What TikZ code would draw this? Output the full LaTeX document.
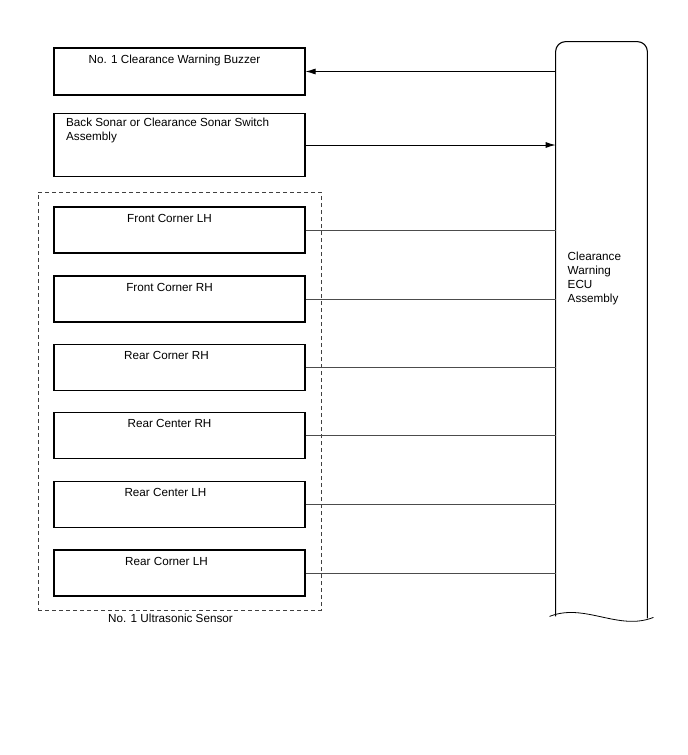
\documentclass[tikz,border=0pt]{standalone}
\usepackage{fontspec}
\setmainfont{Liberation Sans}
\usetikzlibrary{arrows.meta}

\begin{document}
\begin{tikzpicture}[x=1pt,y=-1pt,
                    line width=0.8pt,
                    font=\fontsize{11.7}{14}\selectfont]
    \tikzstyle{unit}=[draw,rectangle,line width=1.1pt,minimum width=251pt,minimum height=46pt,inner sep=0pt]
    \tikzstyle{title}=[anchor=north,xshift=-10pt,yshift=-4pt]
    \tikzstyle{group}=[draw=black!75,dash pattern=on 4pt off 3pt,line width=0.9pt,rectangle,
                       minimum width=283pt,minimum height=418pt,inner sep=0pt]
    \tikzstyle{wire}=[draw=black!70,line width=0.8pt]
    \tikzstyle{signal}=[wire,draw=black,-{Latex[length=10pt,width=6pt]}]

    \useasboundingbox (0,0) rectangle (688,755);

    % units on the left
    \node[unit,minimum height=47pt,label={[title,xshift=5pt]north:No. 1 Clearance Warning Buzzer}] (buzzer) at (179.5,71.5) {};
    \node[unit,minimum height=63pt,
          label={[anchor=north west,align=left,xshift=9pt,yshift=-1pt]north west:Back Sonar or Clearance Sonar Switch\\Assembly}]
          (switch) at (179.5,145) {};

    \node[group,label={[below,xshift=-9pt]south:No. 1 Ultrasonic Sensor}] (sensor) at (179.5,401) {};
    \node[unit,label={[title]north:Front Corner LH}] (flh) at (179.5,230) {};
    \node[unit,label={[title]north:Front Corner RH}] (frh) at (179.5,299) {};
    \node[unit,label={[title,xshift=-3pt]north:Rear Corner RH}] (rrh) at (179.5,367.5) {};
    \node[unit,label={[title]north:Rear Center RH}] (rcr) at (179.5,435.5) {};
    \node[unit,label={[title,xshift=-4pt]north:Rear Center LH}] (rcl) at (179.5,504.5) {};
    \node[unit,label={[title,xshift=-3pt]north:Rear Corner LH}] (rlh) at (179.5,573) {};

    % ECU
    \node[rectangle,minimum width=91pt,minimum height=574pt,inner sep=0pt] (ecu) at (601.5,329) {};
    \draw[line width=1.1pt,rounded corners=10pt] (ecu.south west) -- (ecu.north west)
        -- (ecu.north east) -- ([yshift=-2pt]ecu.south east);
    \draw ([xshift=-6pt]ecu.south west) .. controls +(35,-14) and +(-35,14) .. ([xshift=6pt,yshift=-1pt]ecu.south east);
    \node[anchor=north west,align=left] (ecutext) at (564,248) {Clearance\\Warning\\ECU\\Assembly};

    % connections
    \draw[signal] (ecu.west |- buzzer.east) -- (buzzer.east);
    \draw[signal] (switch.east) -- (ecu.west |- switch.east);
    \foreach \s in {flh,frh,rrh,rcr,rcl,rlh}
        \draw[wire] (\s.east) -- (\s.east -| ecu.west);

\end{tikzpicture}
\end{document}
